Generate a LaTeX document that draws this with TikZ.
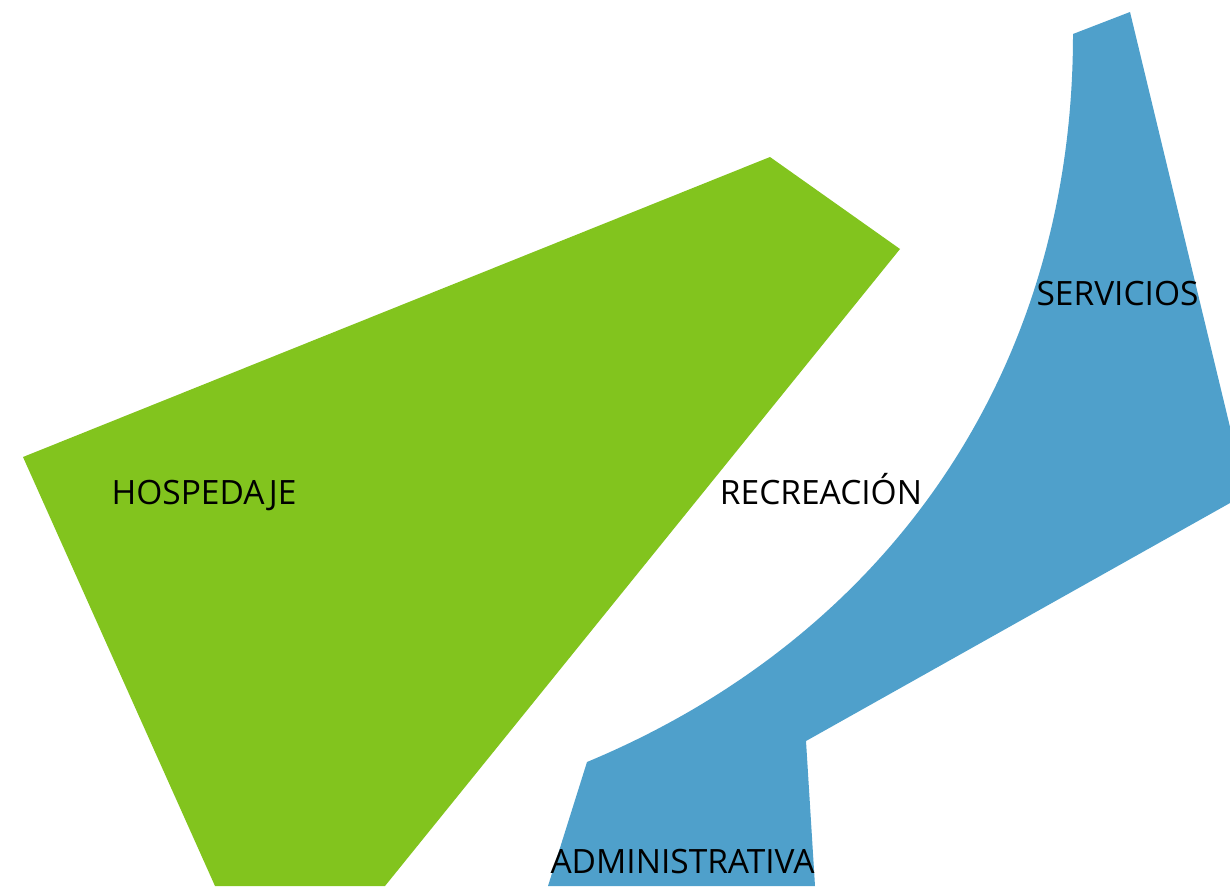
\documentclass[tikz,border=0pt]{standalone}
\usepackage{fontspec}
\setmainfont{Open Sans}
\definecolor{zgreen}{RGB}{130,196,30}
\definecolor{zblue}{RGB}{79,160,203}
\begin{document}
\begin{tikzpicture}[x=1pt,y=-1pt,
  lbl/.style={font=\fontsize{33.5}{38}\selectfont, text=black, inner sep=0pt, anchor=base}]
\useasboundingbox (0,0) rectangle (1230,888);
\fill[zgreen] (23,457) -- (770,157) -- (900,249) -- (385,886) -- (215,886) -- cycle;
\fill[zblue] (1073,34) -- (1130,12) -- (1230,427) -- (1230,503) -- (806,741) -- (815,886) -- (548,886) -- (587,762)
  .. controls (880,640) and (1073,380) .. (1073,34) -- cycle;
\node[lbl] (hosp) at (204,504) {HOSPEDAJE};
\node[lbl] (recr) at (821,504) {RECREACIÓN};
\node[lbl] (serv) at (1117.5,305) {SERVICIOS};
\node[lbl] (admin) at (682.5,873) {ADMINISTRATIVA};
\end{tikzpicture}
\end{document}
